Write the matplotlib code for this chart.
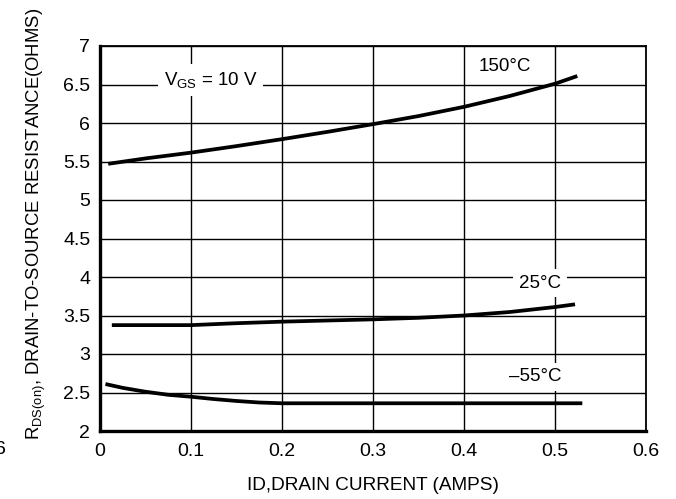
import matplotlib
matplotlib.use("Agg")
import matplotlib.pyplot as plt
from matplotlib import font_manager

names = {f.name for f in font_manager.fontManager.ttflist}
fam = [n for n in ["Liberation Sans Narrow", "Liberation Sans", "DejaVu Sans"] if n in names]
plt.rcParams['font.family'] = fam
plt.rcParams['mathtext.fontset'] = 'custom'
plt.rcParams['mathtext.rm'] = fam[0]
plt.rcParams['mathtext.it'] = fam[0]

# Data
x_150 = [0.009, 0.05, 0.1, 0.15, 0.2, 0.25, 0.3, 0.35, 0.4, 0.45, 0.5, 0.5245]
y_150 = [5.47, 5.54, 5.615, 5.70, 5.79, 5.885, 5.985, 6.09, 6.21, 6.35, 6.51, 6.61]
x_25 = [0.013, 0.05, 0.1, 0.15, 0.2, 0.25, 0.3, 0.35, 0.4, 0.45, 0.5, 0.522]
y_25 = [3.375, 3.375, 3.375, 3.40, 3.42, 3.435, 3.45, 3.47, 3.50, 3.545, 3.61, 3.645]
x_m55 = [0.006, 0.025, 0.05, 0.075, 0.1, 0.125, 0.15, 0.175, 0.2, 0.3, 0.4, 0.53]
y_m55 = [2.61, 2.56, 2.51, 2.47, 2.445, 2.415, 2.39, 2.37, 2.36, 2.36, 2.36, 2.36]

xticks = [0, 0.1, 0.2, 0.3, 0.4, 0.5, 0.6]
xticklabels = ["0", "0.1", "0.2", "0.3", "0.4", "0.5", "0.6"]
yticks = [2, 2.5, 3, 3.5, 4, 4.5, 5, 5.5, 6, 6.5, 7]
yticklabels = ["2", "2.5", "3", "3.5", "4", "4.5", "5", "5.5", "6", "6.5", "7"]

fig = plt.figure(figsize=(6.76, 4.99), dpi=100)
ax = fig.add_axes([100/676, 1-431/499, 546/676, 385/499])

for xs, ys in [(x_150, y_150), (x_25, y_25), (x_m55, y_m55)]:
    ax.plot(xs, ys, color="black", lw=2.7, solid_capstyle="butt",
            solid_joinstyle="round", zorder=3)

ax.set_xlim(0, 0.6)
ax.set_ylim(2, 7)
ax.set_xticks(xticks)
ax.set_xticklabels(xticklabels)
ax.set_yticks(yticks)
ax.set_yticklabels(yticklabels)
ax.tick_params(length=0, labelsize=14, pad=7)
ax.tick_params(axis='x', pad=9)
ax.grid(True, color="black", lw=1.0)
ax.set_axisbelow(True)
ax.spines['left'].set_linewidth(2.4)
ax.spines['bottom'].set_linewidth(2.4)
ax.spines['top'].set_linewidth(1.3)
ax.spines['right'].set_linewidth(1.3)

bb = dict(boxstyle="square,pad=0.3", fc="white", ec="none")
ax.text(0.1215, 6.56, r"V$_{\mathregular{GS}}$ = 10 V", fontsize=13.5, ha="center", va="center",
        bbox=bb, zorder=4)
ax.text(0.445, 6.73, "150°C", fontsize=13.5, ha="center", va="center", bbox=bb, zorder=4)
ax.text(0.4835, 3.92, "25°C", fontsize=13.5, ha="center", va="center", bbox=bb, zorder=4)
ax.text(0.4786, 2.705, "–55°C", fontsize=13.5, ha="center", va="center", bbox=bb, zorder=4)

ax.set_xlabel("ID,DRAIN CURRENT (AMPS)", fontsize=13.7, labelpad=12)
fig.text(36/676, 1-224/499, r"R$_{\mathregular{DS(on)}}$, DRAIN-TO-SOURCE RESISTANCE(OHMS)",
         rotation=90, fontsize=13.3, ha="center", va="center")
fig.text(-5/676, 1-450/499, "6", fontsize=14, ha="left", va="center")

fig.savefig("out.png", dpi=100)
